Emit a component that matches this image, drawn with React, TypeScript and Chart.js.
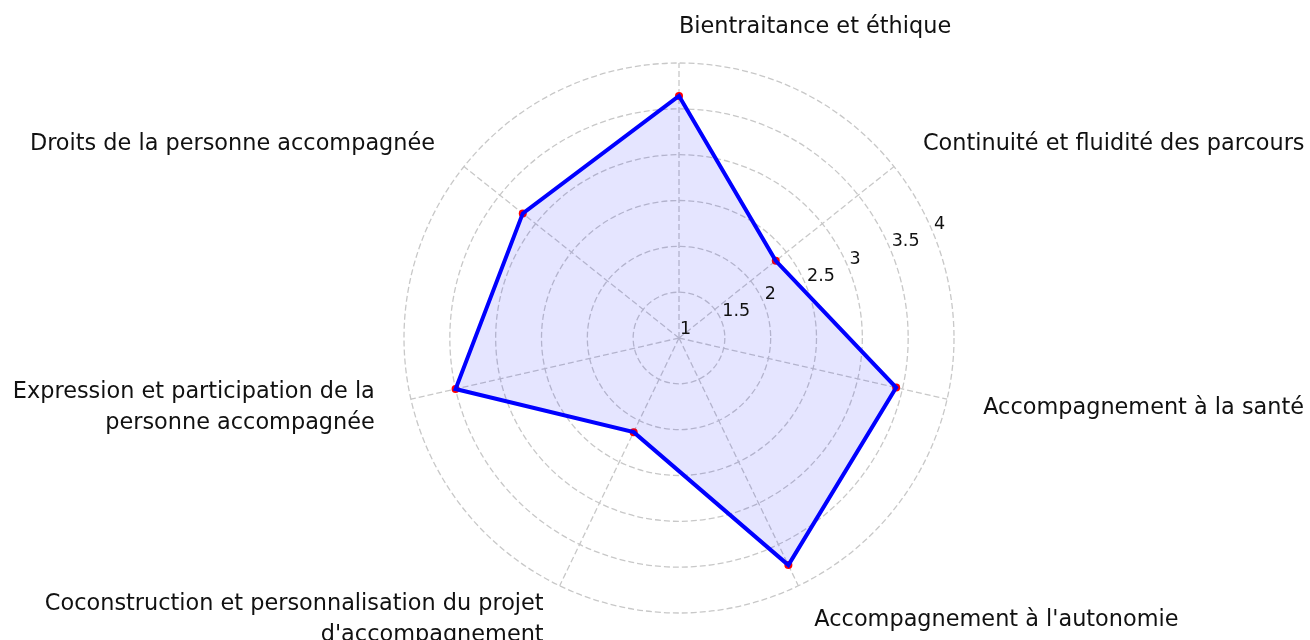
import React, { useEffect, useRef } from "react";
import { Chart, registerables } from "chart.js";

Chart.register(...registerables);

const categories: string[][] = [
  ["Bientraitance et éthique"],
  ["Continuité et fluidité des parcours"],
  ["Accompagnement à la santé"],
  ["Accompagnement à l'autonomie"],
  ["Coconstruction et personnalisation du projet", "d'accompagnement"],
  ["Expression et participation de la", "personne accompagnée"],
  ["Droits de la personne accompagnée"],
];

const scores: number[] = [3.64, 2.35, 3.43, 3.75, 2.14, 3.5, 3.18];

const tickValues: number[] = [1, 1.5, 2, 2.5, 3, 3.5, 4];
const tickLabels: string[] = ["1", "1.5", "2", "2.5", "3", "3.5", "4"];

const FONT = "'DejaVu Sans', 'Liberation Sans', sans-serif";

const labelsPlugin = {
  id: "mplLabels",
  afterDraw(chart: any) {
    const scale = chart.scales.r;
    const ctx = chart.ctx as CanvasRenderingContext2D;
    ctx.save();
    ctx.font = `17.5px ${FONT}`;
    ctx.fillStyle = "#111111";
    ctx.textAlign = "left";
    ctx.textBaseline = "alphabetic";
    const a = (22.5 * Math.PI) / 180;
    tickValues.forEach((v, i) => {
      const d = scale.getDistanceFromCenterForValue(v);
      const x = scale.xCenter + d * Math.cos(a);
      const y = scale.yCenter - d * Math.sin(a);
      ctx.fillText(tickLabels[i], x + 1, y - 4);
    });
    ctx.font = `22.4px ${FONT}`;
    const n = categories.length;
    const lineH = 31;
    categories.forEach((lines, i) => {
      const p = scale.getPointPosition(i, scale.drawingArea + 37);
      const angDeg = (i * 360) / n;
      ctx.textAlign = angDeg < 180 ? "left" : "right";
      const first = p.y - ((lines.length - 1) * lineH) / 2 + 6.5;
      lines.forEach((t, k) => {
        ctx.fillText(t, p.x, first + k * lineH);
      });
    });
    ctx.restore();
  },
};

export default function App() {
  const ref = useRef<HTMLCanvasElement | null>(null);
  useEffect(() => {
    if (!ref.current) return;
    const chart = new Chart(ref.current, {
      type: "radar",
      data: {
        labels: categories.map((l) => l.join(" ")),
        datasets: [
          {
            data: scores,
            borderColor: "#0000ff",
            borderWidth: 4,
            backgroundColor: "rgba(0,0,255,0.1)",
            fill: true,
            pointRadius: 0,
            tension: 0,
          },
          {
            data: scores,
            showLine: false,
            fill: false,
            borderColor: "rgba(0,0,0,0)",
            pointRadius: 4,
            pointBorderWidth: 0,
            pointBackgroundColor: "#ff0000",
            pointBorderColor: "#ff0000",
          },
        ],
      },
      options: {
        responsive: false,
        animation: false,
        layout: { padding: { left: 48, right: 0, top: 63, bottom: 27 } },
        plugins: { legend: { display: false }, tooltip: { enabled: false } },
        scales: {
          r: {
            min: 1,
            max: 4,
            ticks: { display: false, stepSize: 0.5 },
            pointLabels: { display: false },
            grid: { circular: true, color: "#c8c8c8", lineWidth: 1.3 },
            border: { dash: [6, 3] },
            angleLines: { color: "#c8c8c8", lineWidth: 1.3, borderDash: [6, 3] },
          },
        },
      },
      plugins: [labelsPlugin],
    });
    return () => chart.destroy();
  }, []);
  return (
    <div style={{ position: "absolute", left: 0, top: 0, width: 1310, height: 640, background: "#fff" }}>
      <canvas ref={ref} width={1310} height={640} />
    </div>
  );
}
